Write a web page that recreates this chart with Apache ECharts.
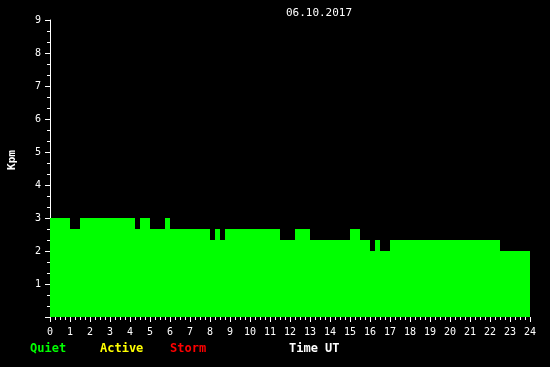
<!DOCTYPE html>
<html>
<head>
<meta charset="utf-8">
<script src="https://cdn.jsdelivr.net/npm/echarts@6/dist/echarts.min.js"></script>
<style>
html,body{margin:0;padding:0;background:#000;}
#chart{width:550px;height:367px;}
</style>
</head>
<body>
<div id="chart"></div>
<script>
// Segment start times (hours UT) and Kpm values held from each start time
var segmentStarts = [0, 1, 1.5, 4.25, 4.5, 5, 5.75, 6, 8, 8.25, 8.5, 8.75, 11.5, 12.25, 13, 15, 15.5, 16, 16.25, 16.5, 17, 22.5, 24];
var kpmValues = [3, 2.67, 3, 2.67, 3, 2.67, 3, 2.67, 2.33, 2.67, 2.33, 2.67, 2.33, 2.67, 2.33, 2.67, 2.33, 2, 2.33, 2, 2.33, 2, 2];
var yTickLabels = ['', '1', '2', '3', '4', '5', '6', '7', '8', '9'];
var titleText = '06.10.2017';
var legendLabels = ['Quiet', 'Active', 'Storm'];
var legendColors = ['#00ff00', '#ffff00', '#ff0000'];

var seriesData = segmentStarts.map(function (t, i) { return [t, kpmValues[i]]; });

var chart = echarts.init(document.getElementById('chart'));
var mono = '"DejaVu Sans Mono", "Liberation Mono", monospace';
var legendX = [30, 100, 170];
var graphics = legendLabels.map(function (lbl, i) {
  return {
    type: 'text', left: legendX[i], top: 343,
    style: { text: lbl, fill: legendColors[i], font: 'bold 12px ' + mono }
  };
});
graphics.push({
  type: 'text', left: 289, top: 343,
  style: { text: 'Time UT', fill: '#ffffff', font: 'bold 12px ' + mono }
});
graphics.push({
  type: 'text', x: 319, y: 13,
  style: { text: titleText, fill: '#ffffff', font: '11px ' + mono, align: 'center', verticalAlign: 'middle' }
});
graphics.push({
  type: 'text', x: 12, y: 160, rotation: Math.PI / 2,
  style: { text: 'Kpm', fill: '#ffffff', font: 'bold 11px ' + mono, align: 'center', verticalAlign: 'middle' }
});

chart.setOption({
  backgroundColor: '#000000',
  animation: false,
  grid: { left: 50, right: 20, top: 20, bottom: 50, containLabel: false },
  xAxis: {
    type: 'value', min: 0, max: 24, interval: 1,
    axisLine: { show: false },
    axisTick: { show: true, length: 5, lineStyle: { color: '#ffffff', width: 1 } },
    minorTick: { show: true, splitNumber: 4, length: 3, lineStyle: { color: '#ffffff', width: 1 } },
    splitLine: { show: false },
    axisLabel: { color: '#ffffff', fontFamily: mono, fontSize: 10, margin: 10 }
  },
  yAxis: {
    type: 'value', min: 0, max: 9, interval: 1,
    axisLine: { show: true, lineStyle: { color: '#ffffff', width: 1 } },
    axisTick: { show: true, length: 5, lineStyle: { color: '#ffffff', width: 1 } },
    minorTick: { show: true, splitNumber: 3, length: 3, lineStyle: { color: '#ffffff', width: 1 } },
    splitLine: { show: false },
    axisLabel: {
      color: '#ffffff', fontFamily: mono, fontSize: 10, margin: 9,
      formatter: function (v) { return yTickLabels[Math.round(v)] || ''; }
    }
  },
  graphic: graphics,
  series: [{
    type: 'line',
    step: 'end',
    data: seriesData,
    symbol: 'none',
    lineStyle: { width: 0, color: '#00ff00' },
    areaStyle: { color: '#00ff00', opacity: 1 },
    z: 1
  }]
});
</script>
</body>
</html>
